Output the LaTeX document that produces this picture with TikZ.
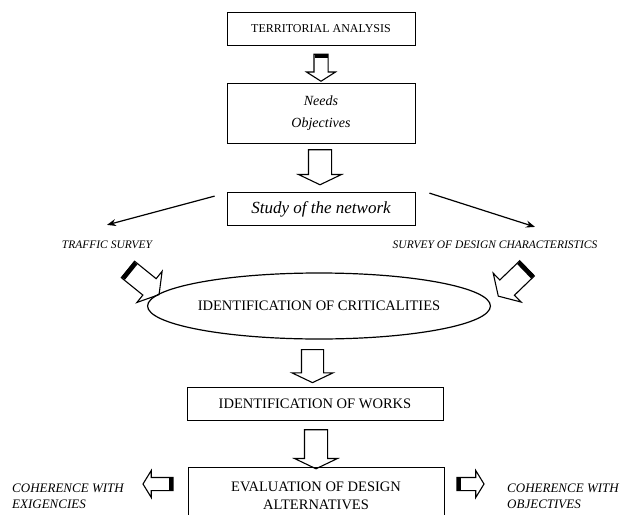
\documentclass[tikz,border=0pt]{standalone}
\usepackage{fontspec}
\setmainfont{Liberation Serif}
\usetikzlibrary{arrows.meta, positioning, shapes.geometric, shapes.arrows}

\begin{document}
\begin{tikzpicture}[
      x=1pt, y=-1pt,
      stage/.style={draw, line width=0.8pt, align=center, inner sep=3pt, font=\fontsize{14.5}{17.5}\selectfont},
      note/.style={align=left, inner sep=3pt, font=\itshape\fontsize{11.5}{13.5}\selectfont},
      fat/.style={draw, line width=1.1pt, single arrow, minimum width=0pt, single arrow tip angle=#1, inner xsep=0pt},
      fat/.default=120,
      band/.style={fill=black, inner sep=0pt, minimum width=4.5pt, anchor=west},
      >={Stealth[length=9pt, width=7pt]}
    ]
    \clip (0,0) rectangle (621,514);

    \node[stage, minimum width=188pt, minimum height=33pt, font=\fontsize{12}{14}\selectfont] (territory) at (321,28.5) {TERRITORIAL ANALYSIS};
    \node[stage, minimum width=188pt, minimum height=60pt, font=\itshape\fontsize{14}{22}\selectfont] (needs) at (321,113) {Needs\\Objectives};
    \node[stage, minimum width=188pt, minimum height=33pt, font=\itshape\fontsize{17}{20}\selectfont] (study) at (321,209) {Study of the network};
    \node[draw, ellipse, line width=1.2pt, minimum width=314pt, minimum height=66pt, inner sep=0pt, font=\fontsize{14.5}{17}\selectfont] (critical) at (319,306) {IDENTIFICATION OF CRITICALITIES};
    \node[stage, minimum width=256pt, minimum height=33pt] (works) at (315,403.5) {IDENTIFICATION OF WORKS};
    \node[stage, minimum width=256pt, minimum height=58pt] (evaluation) at (316,496) {EVALUATION OF DESIGN\\ALTERNATIVES};

    \node[note] (traffic) at (107,245) {TRAFFIC SURVEY};
    \node[note] (design) at (495,245) {SURVEY OF DESIGN CHARACTERISTICS};
    \node[note, anchor=west, font=\itshape\fontsize{13}{16}\selectfont] (exigencies) at (9,496) {COHERENCE WITH\\EXIGENCIES};
    \node[note, anchor=west, font=\itshape\fontsize{13}{16}\selectfont] (objectives) at (504,496) {COHERENCE WITH\\OBJECTIVES};

    \node[fat=115, minimum height=27pt, inner ysep=6.5pt, single arrow head extend=7.5pt, rotate=-90] (down1) at (321,65.5) {};
    \node[band, minimum height=13pt, rotate=-90] at (down1.tail) {};
    \node[fat=129, minimum height=35pt, inner ysep=11pt, single arrow head extend=10pt, rotate=-90] (down2) at (320,164.5) {};
    \node[fat=129, minimum height=33pt, inner ysep=10.5pt, single arrow head extend=9.5pt, rotate=-90] (down3) at (312.5,363.5) {};
    \node[fat=129, minimum height=39pt, inner ysep=11pt, single arrow head extend=10pt, rotate=-90] (down4) at (316,446.5) {};

    \node[fat=117, minimum height=40pt, inner ysep=10pt, single arrow head extend=9.5pt, rotate=-39] (trafficin) at (141,280) {};
    \node[band, minimum height=20pt, rotate=-39] at (trafficin.tail) {};
    \node[fat=117, minimum height=40pt, inner ysep=10pt, single arrow head extend=9.5pt, rotate=-136] (designin) at (515,280) {};
    \node[band, minimum height=20pt, rotate=-136] at (designin.tail) {};

    \node[fat=117, minimum height=30pt, inner ysep=6pt, single arrow head extend=7pt, rotate=180] (leftout) at (160,484) {};
    \node[band, minimum height=12pt, rotate=180] at (leftout.tail) {};
    \node[fat=117, minimum height=27pt, inner ysep=6pt, single arrow head extend=7pt] (rightout) at (468.5,484) {};
    \node[band, minimum height=12pt] at (rightout.tail) {};

    \draw[->, line width=1.2pt] ([xshift=-12pt, yshift=-4pt]study.north west) -- ([yshift=13pt]traffic.north);
    \draw[->, line width=1.2pt] ([xshift=14pt, yshift=-1pt]study.north east) -- ([xshift=40pt, yshift=11pt]design.north);
  \end{tikzpicture}
\end{document}
